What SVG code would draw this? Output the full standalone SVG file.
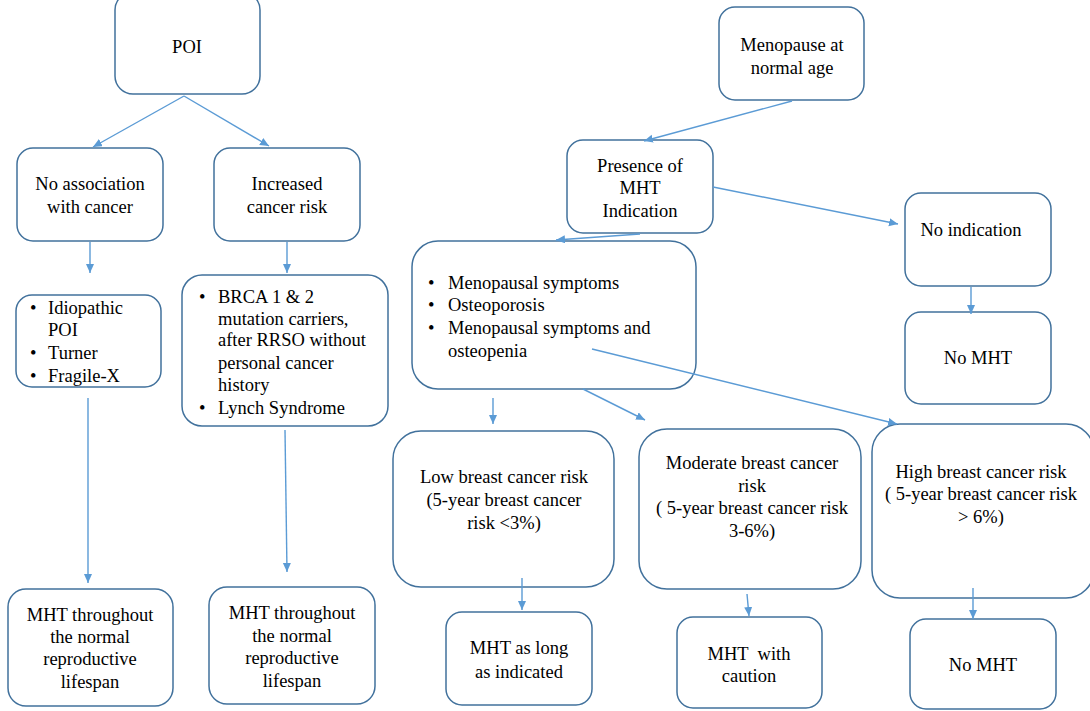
<svg xmlns="http://www.w3.org/2000/svg" width="1090" height="711" viewBox="0 0 1090 711">
<style>
.box{fill:#fff;stroke:#41719c;stroke-width:1.5}
.t{font-size:18.5px;fill:#000}
.c{text-anchor:middle}
.cn{stroke:#5b9bd5;stroke-width:1.4;fill:none;marker-end:url(#ah)}
</style>
<defs>
<marker id="ah" markerUnits="userSpaceOnUse" markerWidth="10" markerHeight="10" refX="9" refY="4" orient="auto">
<path d="M0,0 L9,4 L0,8 Z" fill="#5b9bd5"/>
</marker>
</defs>
<rect width="1090" height="711" fill="#fff"/>
<g font-family="Liberation Serif, Tinos, Times New Roman, serif">
<g id="poi"><rect class="box" x="115" y="-8" width="145" height="102" rx="18"/>
<text class="t c" x="187" y="53">POI</text></g>
<g id="no-assoc"><rect class="box" x="17" y="148" width="146" height="93" rx="16"/>
<text class="t c" x="90" y="190">No association</text><text class="t c" x="90" y="213">with cancer</text></g>
<g id="increased"><rect class="box" x="214" y="148" width="146" height="93" rx="16"/>
<text class="t c" x="287" y="190">Increased</text><text class="t c" x="287" y="213">cancer risk</text></g>
<g id="idiopathic"><rect class="box" x="16" y="295" width="145" height="92" rx="16"/>
<text class="t" x="30" y="314">•</text><text class="t" x="48" y="314">Idiopathic</text>
<text class="t" x="48" y="336">POI</text>
<text class="t" x="30" y="359">•</text><text class="t" x="48" y="359">Turner</text>
<text class="t" x="30" y="382">•</text><text class="t" x="48" y="382">Fragile-X</text></g>
<g id="brca"><rect class="box" x="182" y="275" width="206" height="151" rx="20"/>
<text class="t" x="199" y="303">•</text><text class="t" x="218" y="303">BRCA 1 &amp; 2</text>
<text class="t" x="218" y="325">mutation carriers,</text>
<text class="t" x="218" y="346">after RRSO without</text>
<text class="t" x="218" y="369">personal cancer</text>
<text class="t" x="218" y="391">history</text>
<text class="t" x="199" y="414">•</text><text class="t" x="218" y="414">Lynch Syndrome</text></g>
<g id="mht-left"><rect class="box" x="8" y="589" width="165" height="117" rx="18"/>
<text class="t c" x="90" y="621">MHT throughout</text><text class="t c" x="90" y="643">the normal</text>
<text class="t c" x="90" y="665">reproductive</text><text class="t c" x="90" y="688">lifespan</text></g>
<g id="mht-right"><rect class="box" x="209" y="587" width="166" height="117" rx="18"/>
<text class="t c" x="292" y="619">MHT throughout</text><text class="t c" x="292" y="642">the normal</text>
<text class="t c" x="292" y="664">reproductive</text><text class="t c" x="292" y="687">lifespan</text></g>
<g id="menopause"><rect class="box" x="719" y="7" width="145" height="93" rx="16"/>
<text class="t c" x="792" y="51">Menopause at</text><text class="t c" x="792" y="74">normal age</text></g>
<g id="presence"><rect class="box" x="567" y="140" width="146" height="93" rx="16"/>
<text class="t c" x="640" y="172">Presence of</text><text class="t c" x="640" y="194">MHT</text><text class="t c" x="640" y="217">Indication</text></g>
<g id="no-indication"><rect class="box" x="905" y="193" width="146" height="93" rx="16"/>
<text class="t c" x="971" y="236">No indication</text></g>
<g id="no-mht-top"><rect class="box" x="905" y="312" width="146" height="92" rx="16"/>
<text class="t c" x="978" y="364">No MHT</text></g>
<g id="indications"><rect class="box" x="412" y="241" width="284" height="148" rx="26"/>
<text class="t" x="428" y="289">•</text><text class="t" x="448" y="289">Menopausal symptoms</text>
<text class="t" x="428" y="311">•</text><text class="t" x="448" y="311">Osteoporosis</text>
<text class="t" x="428" y="334">•</text><text class="t" x="448" y="334">Menopausal symptoms and</text>
<text class="t" x="448" y="357">osteopenia</text></g>
<g id="low"><rect class="box" x="393" y="431" width="221" height="156" rx="28"/>
<text class="t c" x="504" y="483">Low breast cancer risk</text><text class="t c" x="504" y="506">(5-year breast cancer</text><text class="t c" x="504" y="529">risk &lt;3%)</text></g>
<g id="moderate"><rect class="box" x="639" y="429" width="222" height="160" rx="28"/>
<text class="t c" x="752" y="469">Moderate breast cancer</text><text class="t c" x="752" y="492">risk</text><text class="t c" x="752" y="514">( 5-year breast cancer risk</text><text class="t c" x="752" y="537">3-6%)</text></g>
<g id="high"><rect class="box" x="872" y="424" width="222" height="174" rx="28"/>
<text class="t c" x="981" y="478">High breast cancer risk</text><text class="t c" x="981" y="500">( 5-year breast cancer risk</text><text class="t c" x="981" y="523">&gt; 6%)</text></g>
<g id="mht-long"><rect class="box" x="446" y="612" width="146" height="93" rx="16"/>
<text class="t c" x="519" y="654">MHT as long</text><text class="t c" x="519" y="678">as indicated</text></g>
<g id="mht-caution"><rect class="box" x="677" y="617" width="145" height="91" rx="16"/>
<text class="t c" x="749" y="660" xml:space="preserve">MHT  with</text><text class="t c" x="749" y="682">caution</text></g>
<g id="no-mht-bottom"><rect class="box" x="910" y="619" width="146" height="90" rx="16"/>
<text class="t c" x="983" y="671">No MHT</text></g>
</g>
<g id="connectors">
<line class="cn" x1="184" y1="96" x2="93" y2="147"/>
<line class="cn" x1="184" y1="96" x2="269" y2="146"/>
<line class="cn" x1="90" y1="242" x2="90" y2="273"/>
<line class="cn" x1="287" y1="242" x2="287" y2="273"/>
<line class="cn" x1="88" y1="398" x2="88" y2="583"/>
<line class="cn" x1="285" y1="430" x2="287" y2="572"/>
<line class="cn" x1="792" y1="101" x2="644" y2="141"/>
<line class="cn" x1="713" y1="187" x2="898" y2="224"/>
<line class="cn" x1="971" y1="287" x2="971" y2="314"/>
<line class="cn" x1="640" y1="234" x2="556" y2="240"/>
<line class="cn" x1="493" y1="398" x2="493" y2="424"/>
<line class="cn" x1="583" y1="389" x2="645" y2="420"/>
<line class="cn" x1="592" y1="349" x2="897" y2="424"/>
<line class="cn" x1="522" y1="578" x2="522" y2="610"/>
<line class="cn" x1="747" y1="594" x2="749" y2="616"/>
<line class="cn" x1="973" y1="588" x2="973" y2="619"/>
</g>
</svg>
